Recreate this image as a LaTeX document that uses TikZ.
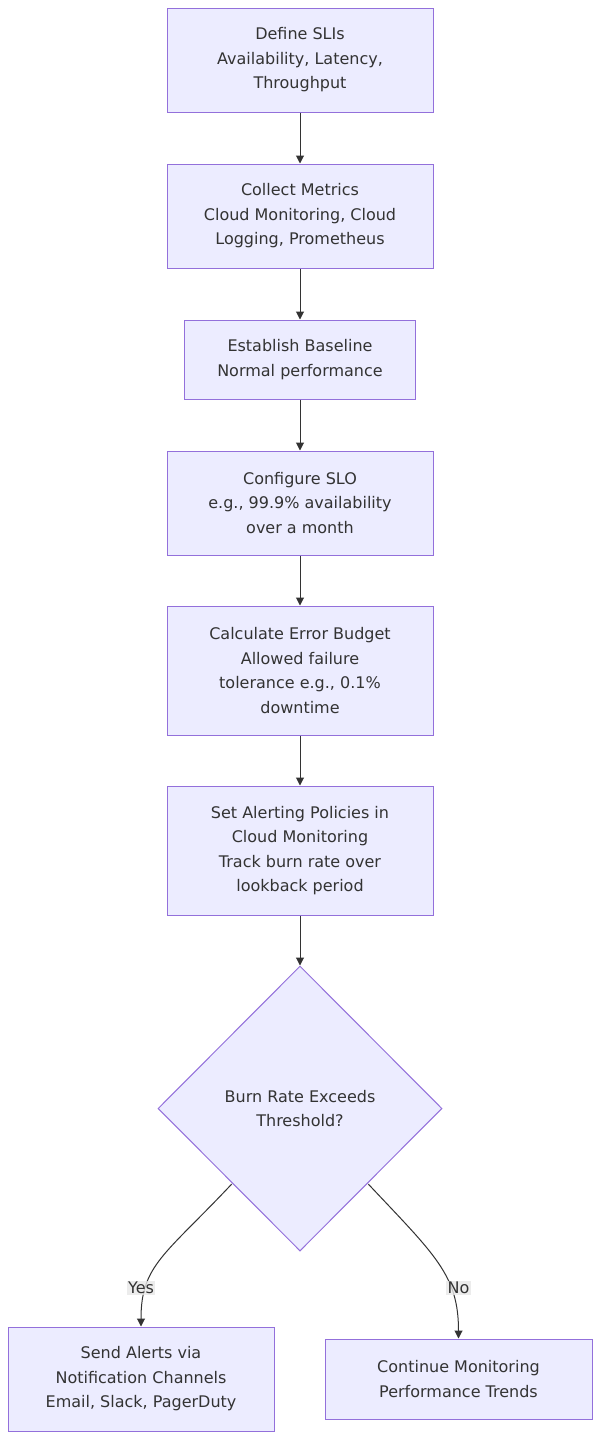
\documentclass[tikz,border=0pt]{standalone}
\usepackage{fontspec}
\setmainfont{DejaVu Sans}
\usetikzlibrary{shapes.geometric,arrows.meta}
\definecolor{nodefill}{HTML}{ECECFF}
\definecolor{nodeline}{HTML}{9370DB}
\definecolor{txt}{HTML}{333333}
\definecolor{edge}{HTML}{333333}
\definecolor{lblbg}{HTML}{E8E8E8}
\begin{document}
\begin{tikzpicture}[x=1pt,y=-1pt,
  box/.style={draw=nodeline,fill=nodefill,line width=1pt,inner sep=0pt,align=center,
    text=txt,font=\fontsize{16}{24.5}\selectfont},
  dec/.style={diamond,draw=nodeline,fill=nodefill,line width=1pt,inner sep=0pt,align=center,
    text=txt,font=\fontsize{16}{24}\selectfont,minimum width=284pt,minimum height=285pt},
  arr/.style={draw=edge,line width=1pt,-{Triangle[length=8pt,width=8pt]}},
  lbl/.style={fill=lblbg,fill opacity=0.8,text opacity=1,text=txt,inner sep=1.5pt,
    font=\fontsize{16}{20}\selectfont}]
\useasboundingbox (0,0) rectangle (600,1440);
\fill[white] (0,0) rectangle (600,1440);
\node[box,minimum width=266pt,minimum height=104pt] (n1) at (300,60) {Define SLIs\\Availability, Latency,\\Throughput};
\node[box,minimum width=266pt,minimum height=104pt] (n2) at (300,216) {Collect Metrics\\Cloud Monitoring, Cloud\\Logging, Prometheus};
\node[box,minimum width=231pt,minimum height=79pt] (n3) at (300,359.5) {Establish Baseline\\Normal performance};
\node[box,minimum width=266pt,minimum height=104pt] (n4) at (300,503) {Configure SLO\\e.g., 99.9\% availability\\over a month};
\node[box,minimum width=266pt,minimum height=129pt] (n5) at (300,670.5) {Calculate Error Budget\\Allowed failure\\tolerance e.g., 0.1\%\\downtime};
\node[box,minimum width=266pt,minimum height=129pt] (n6) at (300,850.5) {Set Alerting Policies in\\Cloud Monitoring\\Track burn rate over\\lookback period};
\node[dec] (d) at (300,1108.5) {Burn Rate Exceeds\\Threshold?};
\node[box,minimum width=266pt,minimum height=104pt] (a) at (141,1379) {Send Alerts via\\Notification Channels\\Email, Slack, PagerDuty};
\node[box,minimum width=267pt,minimum height=80pt] (b) at (458.5,1379) {Continue Monitoring\\Performance Trends};
\draw[arr] (n1) -- (n2);
\draw[arr] (n2) -- (n3);
\draw[arr] (n3) -- (n4);
\draw[arr] (n4) -- (n5);
\draw[arr] (n5) -- (n6);
\draw[arr] (n6) -- (d);
\draw[arr] (d.south west) ++(3,4) .. controls (165,1255) and (141,1265) .. (a.north);
\draw[arr] (d.south east) ++(-3,4) .. controls (435,1255) and (458.5,1275) .. (b.north);
\node[lbl] (yes) at (141,1288) {Yes};
\node[lbl] (no) at (458.5,1288) {No};
\end{tikzpicture}
\end{document}
